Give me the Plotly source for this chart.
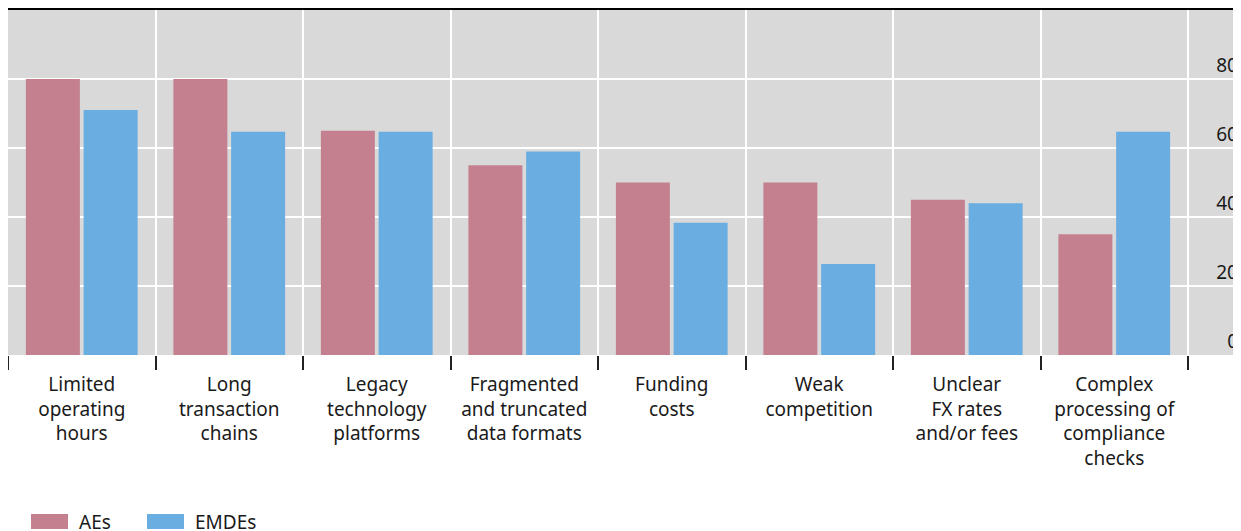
import plotly.graph_objects as go

categories = ["Limited<br>operating<br>hours", "Long<br>transaction<br>chains", "Legacy<br>technology<br>platforms",
              "Fragmented<br>and truncated<br>data formats", "Funding<br>costs", "Weak<br>competition",
              "Unclear<br>FX rates<br>and/or fees", "Complex<br>processing of<br>compliance<br>checks"]
aes = [80, 80, 65, 55, 50, 50, 45, 35]
emdes = [71, 64.7, 64.7, 59, 38.3, 26.4, 44, 64.7]
series_names = ["AEs", "EMDEs"]
colors = ["#C4808F", "#6AADE1"]
y_ticks = [0, 20, 40, 60, 80]

# page has an 8px body margin; figure sized to fill the rest of the 1241x531 window
W, H = 1233, 523
ml, mr, mt, mb = 0, 0, 2, 176
pw, ph = W - ml - mr, H - mt - mb

x = list(range(len(categories)))
fig = go.Figure()
for name, vals, c in zip(series_names, [aes, emdes], colors):
    fig.add_trace(go.Bar(x=x, y=vals, name=name, marker=dict(color=c, line=dict(width=0)), showlegend=False))

font = dict(family="Noto Sans, Open Sans, sans-serif", size=19, color="#1a1a1a")
fig.update_layout(
    width=W, height=H, margin=dict(l=ml, r=mr, t=mt, b=mb),
    paper_bgcolor="white", plot_bgcolor="#D9D9D9",
    barmode="group", bargap=0.217, bargroupgap=0.065,
    font=font,
    xaxis=dict(range=[-0.5, -0.5 + pw / 147.5], tickvals=x, ticktext=categories,
               showgrid=False, zeroline=False, showline=False,
               ticks="outside", ticklen=12, tickcolor="rgba(0,0,0,0)",
               minor=dict(tick0=-0.5, dtick=1, showgrid=True, gridcolor="white", gridwidth=1.5,
                          ticks="outside", ticklen=14, tickcolor="#222", tickwidth=1.5),
               tickfont=font),
    yaxis=dict(range=[0, 100], side="right", tickvals=y_ticks, ticklabelposition="inside top",
               showgrid=True, gridcolor="white", gridwidth=1.5, zeroline=False, showline=False,
               ticks="", tickfont=font),
)

# top black rule
fig.add_shape(type="line", xref="paper", yref="paper", x0=0, x1=1, y0=1 + 1 / ph, y1=1 + 1 / ph,
              line=dict(color="black", width=2))

# manual legend (positions in figure pixels)
def px_x(p):
    return (p - ml) / pw
def px_y(p):
    return (H - mb - p) / ph

leg = [(23, 60, 69), (139, 176, 185)]
for (x0, x1, tx), name, c in zip(leg, series_names, colors):
    fig.add_shape(type="rect", xref="paper", yref="paper", x0=px_x(x0), x1=px_x(x1),
                  y0=px_y(521), y1=px_y(506), fillcolor=c, line=dict(width=0))
    fig.add_annotation(xref="paper", yref="paper", x=px_x(tx), y=px_y(513.5), text=name,
                       showarrow=False, xanchor="left", yanchor="middle", font=font)

fig.write_html("out.html",
               post_script="document.documentElement.style.overflow='hidden';document.body.style.overflow='hidden';")
